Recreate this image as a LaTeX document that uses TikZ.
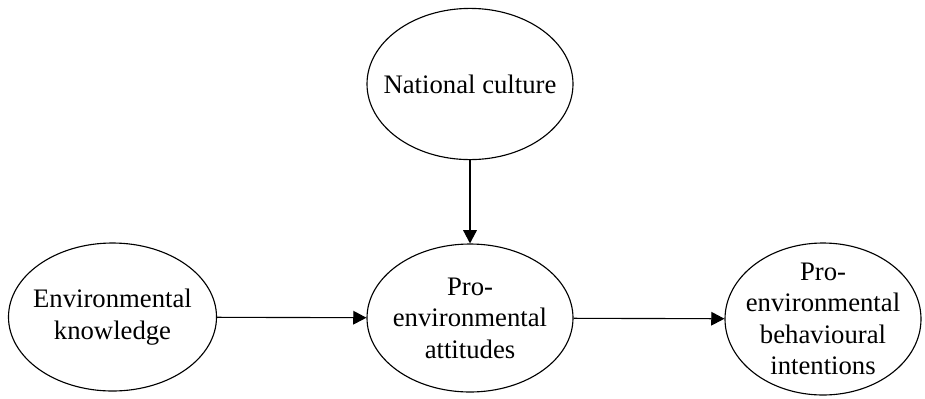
\documentclass[tikz,border=0pt]{standalone}
\usepackage{fontspec}
\setmainfont{Liberation Serif}
\usetikzlibrary{shapes.geometric, arrows.meta}

\begin{document}
\begin{tikzpicture}[
    construct/.style={draw, ellipse, thick, inner sep=0pt,
      minimum width=5.15cm, minimum height=3.7cm,
      label={[align=center, font=\fontsize{19}{22.4}\selectfont]center:#1}},
    link/.style={thick, -{Triangle[length=3.3mm, width=3.4mm]}}
  ]
    \useasboundingbox (0, 0) rectangle (23.125, -9.95);
    \node[construct={National culture}, minimum height=3.78cm] (culture) at (11.75, -2.1) {};
    \node[construct={Environmental\\knowledge}, minimum width=5.2cm] (knowledge) at (2.8125, -7.925) {};
    \node[construct={Pro-\\environmental\\attitudes}] (attitudes) at (11.75, -7.95) {};
    \node[construct={Pro-\\environmental\\behavioural\\intentions}, minimum width=4.9cm, minimum height=3.8cm] (intentions) at (20.575, -7.975) {};
    \path[link] (culture) edge (attitudes) ;
    \path[link] (knowledge) edge (attitudes) ;
    \path[link] (attitudes) edge (intentions) ;
\end{tikzpicture}
\end{document}
